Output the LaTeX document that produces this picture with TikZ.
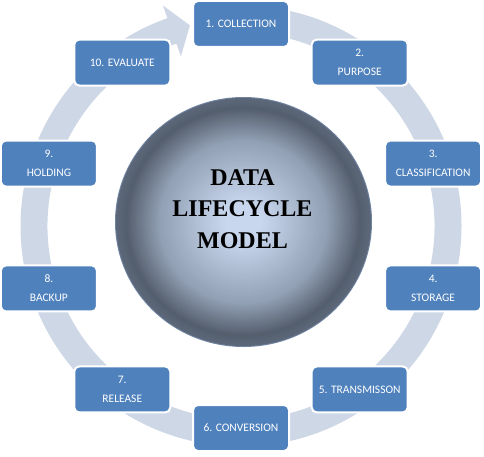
\documentclass[tikz,border=0pt]{standalone}
\usepackage{fontspec}
\setmainfont{Carlito}
\newfontfamily\serifbold{Liberation Serif}
\usetikzlibrary{calc}
\definecolor{boxblue}{RGB}{79,129,189}
\definecolor{bandcol}{RGB}{206,215,230}
\definecolor{ctr}{RGB}{200,215,237}
\definecolor{cmid}{RGB}{146,160,181}
\definecolor{cdark}{RGB}{84,94,109}
\definecolor{cedge}{RGB}{92,104,122}
\definecolor{crim}{RGB}{112,132,162}
\tikzset{
  stepbox/.style={draw=white, line width=2pt, fill=boxblue, rounded corners=5pt,
    minimum width=96pt, minimum height=46pt, inner sep=0pt, text=white,
    align=center, font=\fontsize{11.5}{19}\selectfont},
  bandfill/.style={fill=bandcol}
}
\begin{document}
\begin{tikzpicture}[x=1pt,y=1pt]
\useasboundingbox (0,0) rectangle (484,456);
\coordinate (c) at (241,230);
% circular band with arrow head
\fill[bandfill] ($(c)+(85:220.5)$) arc[start angle=85, end angle=-250.5, radius=220.5]
  -- ($(c)+(109.5:234)$) -- ($(c)+(104.3:207)$) -- ($(c)+(109.5:180)$)
  -- ($(c)+(109.5:193.5)$) arc[start angle=-250.5, end angle=85, radius=193.5] -- cycle;
% centre circle (radial gradient built from concentric ellipses)
\coordinate (m) at (243.5,234);
\fill[crim] (m) ellipse[x radius=128.5, y radius=125];
\foreach \i in {0,...,89}{
  \pgfmathsetmacro{\f}{(90-\i)/90}
  \pgfmathsetmacro{\rx}{127.5*\f}
  \pgfmathsetmacro{\ry}{124*\f}
  \pgfmathparse{\f<=0.15 ? 0 : (\f<=0.66 ? 1 : (\f<=0.92 ? 2 : 3))}
  \let\seg\pgfmathresult
  \ifcase\seg\relax
    \colorlet{cc}{ctr}
  \or
    \pgfmathtruncatemacro{\p}{100*(\f-0.15)/0.51}
    \colorlet{cc}{cmid!\p!ctr}
  \or
    \pgfmathtruncatemacro{\p}{100*(\f-0.66)/0.26}
    \colorlet{cc}{cdark!\p!cmid}
  \else
    \pgfmathtruncatemacro{\p}{100*(\f-0.92)/0.08}
    \colorlet{cc}{cedge!\p!cdark}
  \fi
  \fill[cc] (m) ellipse[x radius=\rx, y radius=\ry];
}
\node[font=\serifbold\bfseries\fontsize{24}{31.5}\selectfont, align=center, text=black] (title) at (242.5,247) {DATA\\LIFECYCLE\\MODEL};
% boxes
\node[stepbox] (b1) at ($(c)+(90:202)$) {1. COLLECTION};
\node[stepbox] (b2) at ($(c)+(54:202)$) {2.\\PURPOSE};
\node[stepbox] (b3) at ($(c)+(18:202)$) {3.\\CLASSIFICATION};
\node[stepbox] (b4) at ($(c)+(-18:202)$) {4.\\STORAGE};
\node[stepbox] (b5) at ($(c)+(-54:202)$) {5. TRANSMISSON};
\node[stepbox] (b6) at ($(c)+(-90:202)$) {6. CONVERSION};
\node[stepbox] (b7) at ($(c)+(-126:202)$) {7.\\RELEASE};
\node[stepbox] (b8) at ($(c)+(-162:202)$) {8.\\BACKUP};
\node[stepbox] (b9) at ($(c)+(162:202)$) {9.\\HOLDING};
\node[stepbox] (b10) at ($(c)+(126:202)$) {10. EVALUATE};
\end{tikzpicture}
\end{document}
